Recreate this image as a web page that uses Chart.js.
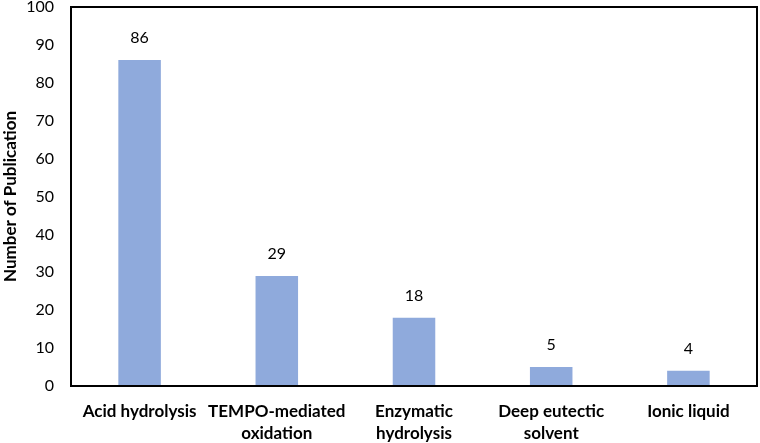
<!DOCTYPE html>
<html><head><meta charset="utf-8">
<script src="https://cdn.jsdelivr.net/npm/chart.js@4/dist/chart.umd.min.js"></script>
<style>html,body{margin:0;padding:0;background:#fff}#w{width:760px;height:443px}</style>
</head><body><div id="w"><canvas id="c"></canvas></div>
<script>
const categories = [["Acid hydrolysis"], ["TEMPO-mediated", "oxidation"], ["Enzymatic", "hydrolysis"], ["Deep eutectic", "solvent"], ["Ionic liquid"]];
const publications = [86, 29, 18, 5, 4];
const yTicks = {min: 0, max: 100, step: 10};
const yTitle = "Number of Publication";

const FONT = "Lato, 'Open Sans', sans-serif";

const frame = {
  id: 'frame',
  afterDraw(chart) {
    const {ctx, chartArea: a} = chart;
    ctx.save();
    ctx.strokeStyle = '#000';
    ctx.lineWidth = 2;
    ctx.strokeRect(a.left, a.top, a.right - a.left, a.bottom - a.top);
    ctx.restore();
  }
};
const labels = {
  id: 'labels',
  afterDatasetsDraw(chart) {
    const {ctx} = chart;
    const meta = chart.getDatasetMeta(0);
    ctx.save();
    ctx.fillStyle = '#000';
    ctx.font = '16px ' + FONT;
    ctx.textAlign = 'center';
    ctx.textBaseline = 'middle';
    meta.data.forEach((bar, i) => {
      ctx.fillText(String(publications[i]), bar.x, bar.y - 22);
    });
    ctx.restore();
  }
};

new Chart(document.getElementById('c'), {
  type: 'bar',
  data: {
    labels: categories,
    datasets: [{data: publications, backgroundColor: '#8faadc', barPercentage: 0.31, categoryPercentage: 1}]
  },
  options: {
    responsive: true, maintainAspectRatio: false, animation: false,
    layout: {padding: {top: 7, right: 3, left: 0, bottom: 0}},
    plugins: {legend: {display: false}, tooltip: {enabled: false}},
    scales: {
      x: {
        grid: {display: false},
        border: {display: false},
        ticks: {color: '#000', font: {family: FONT, size: 17, weight: 'bold', lineHeight: 1.3}, maxRotation: 0, autoSkip: false, padding: 6},
        afterFit(s) { s.height = 57; }
      },
      y: {
        min: yTicks.min, max: yTicks.max,
        grid: {display: false, tickLength: 17},
        border: {display: false},
        ticks: {stepSize: yTicks.step, color: '#000', font: {family: FONT, size: 16, lineHeight: 0.8}, padding: 0},
        title: {display: true, text: yTitle, color: '#000', font: {family: FONT, size: 17, weight: 'bold'}, padding: {top: 0, bottom: 0}},
        afterFit(s) { s.width = 71; }
      }
    }
  },
  plugins: [frame, labels]
});
</script></body></html>
